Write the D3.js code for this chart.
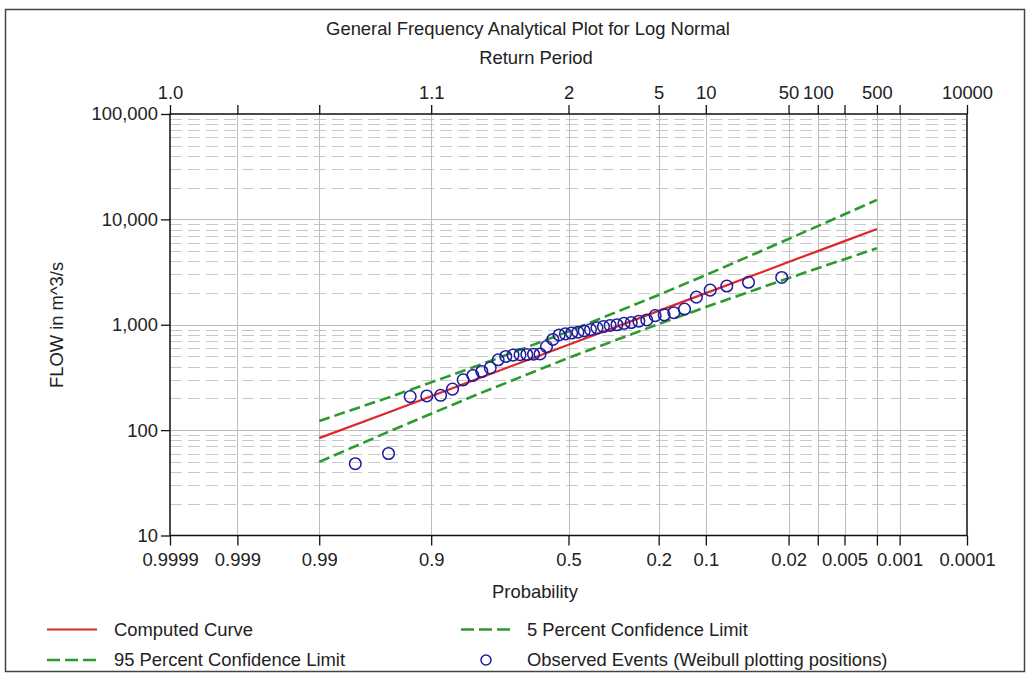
<!DOCTYPE html>
<html>
<head>
<meta charset="utf-8">
<script src="https://cdn.jsdelivr.net/npm/d3@7"></script>
<style>
  body { margin: 0; background: #fff; }
  svg { display: block; font-family: "Liberation Sans", Arial, sans-serif; }
</style>
</head>
<body>
<svg id="chart" width="1034" height="680"></svg>
<script>
// Exceedance probabilities marked on the probability axis
const probTicks = [0.9999, 0.999, 0.99, 0.9, 0.5, 0.2, 0.1, 0.02, 0.01, 0.005, 0.002, 0.001, 0.0001];
const probLabels = ["0.9999", "0.999", "0.99", "0.9", "0.5", "0.2", "0.1", "0.02", "", "0.005", "", "0.001", "0.0001"];
const returnLabels = ["1.0", "", "", "1.1", "2", "5", "10", "50", "100", "", "500", "", "10000"];
const flowTicks = [10, 100, 1000, 10000, 100000];
const flowLabels = ["10", "100", "1,000", "10,000", "100,000"];

// Computed log-normal frequency curve with its confidence limits (m^3/s)
const curveProb = [0.99, 0.95, 0.9, 0.8, 0.5, 0.2, 0.1, 0.04, 0.02, 0.01, 0.005, 0.002];
const computedFlow = [84, 152, 210, 309, 647, 1355, 1995, 3010, 3940, 5000, 6220, 8110];
const upper5Flow = [122, 210, 284, 411, 863, 1919, 2965, 4775, 6516, 8630, 11170, 15310];
const lower95Flow = [50, 100, 143, 220, 485, 1016, 1472, 2163, 2767, 3440, 4190, 5320];

// Observed annual peaks, ranked, with Weibull plotting positions
const obsProb = [0.0233, 0.0465, 0.0698, 0.0930, 0.1163, 0.1395, 0.1628, 0.1860, 0.2093, 0.2326,
                 0.2558, 0.2791, 0.3023, 0.3256, 0.3488, 0.3721, 0.3953, 0.4186, 0.4419, 0.4651,
                 0.4884, 0.5116, 0.5349, 0.5581, 0.5814, 0.6047, 0.6279, 0.6512, 0.6744, 0.6977,
                 0.7209, 0.7442, 0.7674, 0.7907, 0.8140, 0.8372, 0.8605, 0.8837, 0.9070, 0.9302,
                 0.9535, 0.9767];
const obsFlow = [2810, 2530, 2330, 2130, 1830, 1410, 1300, 1240, 1220, 1110,
                 1080, 1050, 1030, 1000, 985, 960, 935, 900, 873, 850,
                 835, 820, 800, 725, 620, 528, 525, 522, 520, 515,
                 500, 465, 390, 360, 330, 300, 245, 214, 211, 208,
                 60, 48];

// Inverse standard normal CDF (Acklam's rational approximation)
function probit(p) {
  const a = [-3.969683028665376e+01, 2.209460984245205e+02, -2.759285104469687e+02, 1.383577518672690e+02, -3.066479806614716e+01, 2.506628277459239e+00];
  const b = [-5.447609879822406e+01, 1.615858368580409e+02, -1.556989798598866e+02, 6.680131188771972e+01, -1.328068155288572e+01];
  const c = [-7.784894002430293e-03, -3.223964580411365e-01, -2.400758277161838e+00, -2.549671010050114e+00, 4.374664141464968e+00, 2.938163982698783e+00];
  const d = [7.784695709041462e-03, 3.224671290700398e-01, 2.445134137142996e+00, 3.754408661907416e+00];
  const pl = 0.02425, ph = 1 - pl;
  let q, r;
  if (p < pl) {
    q = Math.sqrt(-2 * Math.log(p));
    return (((((c[0]*q+c[1])*q+c[2])*q+c[3])*q+c[4])*q+c[5]) / ((((d[0]*q+d[1])*q+d[2])*q+d[3])*q+1);
  }
  if (p <= ph) {
    q = p - 0.5; r = q * q;
    return (((((a[0]*r+a[1])*r+a[2])*r+a[3])*r+a[4])*r+a[5])*q / (((((b[0]*r+b[1])*r+b[2])*r+b[3])*r+b[4])*r+1);
  }
  q = Math.sqrt(-2 * Math.log(1 - p));
  return -(((((c[0]*q+c[1])*q+c[2])*q+c[3])*q+c[4])*q+c[5]) / ((((d[0]*q+d[1])*q+d[2])*q+d[3])*q+1);
}
// standard normal variate of an exceedance probability
const zOf = p => probit(1 - p);

const svg = d3.select("#chart");
const W = 1034, H = 680;
const plot = { left: 170, right: 967, top: 114, bottom: 535.5 };
const FONT = 18.4, TEXT = "#222";

const zScale = d3.scaleLinear()
  .domain([zOf(0.9999), zOf(0.0001)])
  .range([plot.left, plot.right]);
const x = p => zScale(zOf(p));
const y = d3.scaleLog().domain([10, 100000]).range([plot.bottom, plot.top]);

// page background and outer frame
svg.append("rect").attr("width", W).attr("height", H).attr("fill", "#fff");
svg.append("rect").attr("x", 5.5).attr("y", 9.5).attr("width", 1019).attr("height", 662)
  .attr("fill", "none").attr("stroke", "#444").attr("stroke-width", 1.5);

// horizontal grid: dashed at 2..9 of each decade, solid at decades
const minorFlows = [];
[10, 100, 1000, 10000].forEach(dec => { for (let m = 2; m <= 9; m++) minorFlows.push(m * dec); });
const grid = svg.append("g");
grid.selectAll("line.minor").data(minorFlows).join("line")
  .attr("x1", plot.left).attr("x2", plot.right)
  .attr("y1", d => Math.round(y(d)) + 0.5).attr("y2", d => Math.round(y(d)) + 0.5)
  .attr("stroke", "#c8c8c8").attr("stroke-width", 1).attr("stroke-dasharray", "12,6");
grid.selectAll("line.major").data(flowTicks.slice(1, -1)).join("line")
  .attr("x1", plot.left).attr("x2", plot.right)
  .attr("y1", d => Math.round(y(d)) + 0.5).attr("y2", d => Math.round(y(d)) + 0.5)
  .attr("stroke", "#bdbdbd").attr("stroke-width", 1);
// vertical grid at every probability tick
grid.selectAll("line.vert").data(probTicks.slice(1, -1)).join("line")
  .attr("x1", d => Math.round(x(d)) + 0.5).attr("x2", d => Math.round(x(d)) + 0.5)
  .attr("y1", plot.top).attr("y2", plot.bottom)
  .attr("stroke", "#bdbdbd").attr("stroke-width", 1);

// axes
function styleAxis(g) {
  g.select(".domain").remove();
  g.selectAll("line").attr("stroke", "#111").attr("stroke-width", 1.3);
  g.selectAll("text").attr("fill", TEXT).attr("font-size", FONT).attr("font-family", "Liberation Sans, Arial, sans-serif");
}
const zTicks = probTicks.map(zOf);
svg.append("g").attr("transform", `translate(0,${plot.bottom})`)
  .call(d3.axisBottom(zScale).tickValues(zTicks).tickSize(10).tickPadding(7)
    .tickFormat((d, i) => probLabels[i]))
  .call(styleAxis);
svg.append("g").attr("transform", `translate(0,${plot.top})`)
  .call(d3.axisTop(zScale).tickValues(zTicks).tickSize(9).tickPadding(6)
    .tickFormat((d, i) => returnLabels[i]))
  .call(styleAxis);
svg.append("g").attr("transform", `translate(${plot.left},0)`)
  .call(d3.axisLeft(y).tickValues(flowTicks).tickSize(9).tickPadding(3)
    .tickFormat((d, i) => flowLabels[i]))
  .call(styleAxis);

// plot frame
svg.append("rect").attr("x", plot.left).attr("y", plot.top)
  .attr("width", plot.right - plot.left).attr("height", plot.bottom - plot.top)
  .attr("fill", "none").attr("stroke", "#111").attr("stroke-width", 1.5);

// frequency curve and confidence limits
const line = d3.line().x(d => x(d[0])).y(d => y(d[1]));
const RED = "#e0262b", GREEN = "#2e9a2e", BLUE = "#1c1c9c";
svg.append("path").datum(curveProb.map((p, i) => [p, upper5Flow[i]]))
  .attr("d", line).attr("fill", "none").attr("stroke", GREEN).attr("stroke-width", 2.6)
  .attr("stroke-dasharray", "11,5");
svg.append("path").datum(curveProb.map((p, i) => [p, lower95Flow[i]]))
  .attr("d", line).attr("fill", "none").attr("stroke", GREEN).attr("stroke-width", 2.6)
  .attr("stroke-dasharray", "11,5");
svg.append("path").datum(curveProb.map((p, i) => [p, computedFlow[i]]))
  .attr("d", line).attr("fill", "none").attr("stroke", RED).attr("stroke-width", 2.2);

// observed events
svg.append("g").selectAll("circle").data(obsProb.map((p, i) => [p, obsFlow[i]])).join("circle")
  .attr("cx", d => x(d[0])).attr("cy", d => y(d[1])).attr("r", 5.8)
  .attr("fill", "none").attr("stroke", BLUE).attr("stroke-width", 1.5);

// titles
const txt = (s, tx, ty, anchor = "middle") => svg.append("text")
  .attr("x", tx).attr("y", ty).attr("text-anchor", anchor)
  .attr("font-size", FONT).attr("fill", TEXT).text(s);
txt("General Frequency Analytical Plot for Log Normal", 528, 35);
txt("Return Period", 536, 64);
txt("Probability", 535, 598);
svg.append("text").attr("transform", "translate(63,325) rotate(-90)")
  .attr("text-anchor", "middle").attr("font-size", FONT).attr("fill", TEXT)
  .text("FLOW in m^3/s");

// legend
const lg = svg.append("g");
lg.append("line").attr("x1", 47).attr("x2", 97).attr("y1", 629.5).attr("y2", 629.5)
  .attr("stroke", RED).attr("stroke-width", 2.2);
txt("Computed Curve", 114, 636, "start");
lg.append("line").attr("x1", 461).attr("x2", 511).attr("y1", 629.5).attr("y2", 629.5)
  .attr("stroke", GREEN).attr("stroke-width", 2.6).attr("stroke-dasharray", "13,5");
txt("5 Percent Confidence Limit", 527, 636, "start");
lg.append("line").attr("x1", 47).attr("x2", 97).attr("y1", 660).attr("y2", 660)
  .attr("stroke", GREEN).attr("stroke-width", 2.6).attr("stroke-dasharray", "13,5");
txt("95 Percent Confidence Limit", 114, 666, "start");
lg.append("circle").attr("cx", 486).attr("cy", 660).attr("r", 5)
  .attr("fill", "none").attr("stroke", BLUE).attr("stroke-width", 1.5);
txt("Observed Events (Weibull plotting positions)", 527, 666, "start");
</script>
</body>
</html>
